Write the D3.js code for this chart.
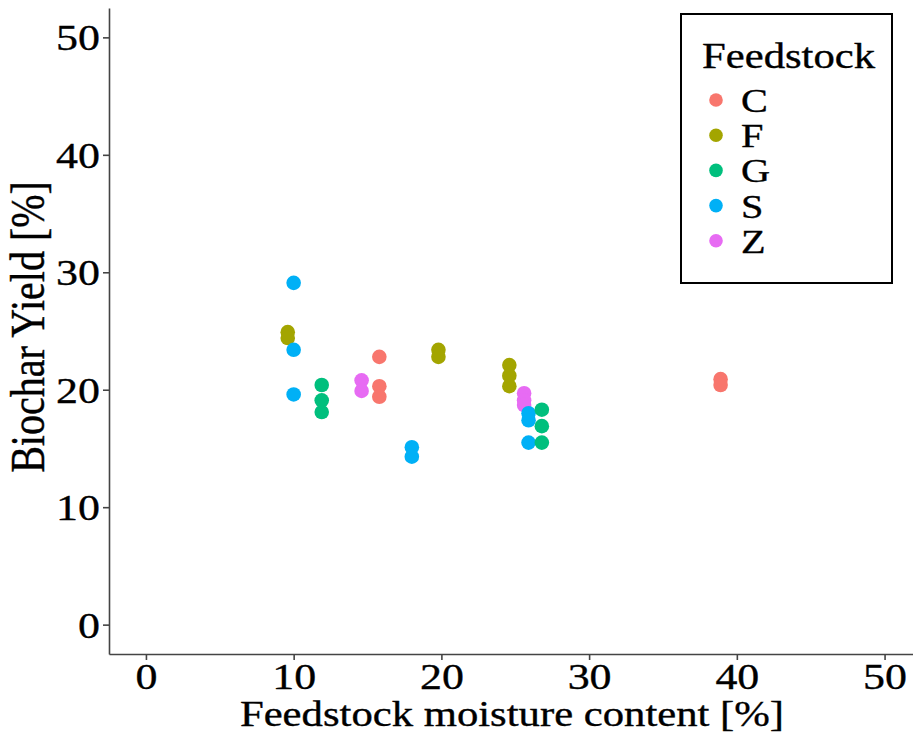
<!DOCTYPE html>
<html>
<head>
<meta charset="utf-8">
<style>
  body { margin: 0; background: #fff; }
  svg { display: block; }
  .axis path, .axis line { stroke: #444; stroke-width: 1.6; }
  .axis text { font-family: "Liberation Serif", "Times New Roman", serif; font-size: 36px; fill: #000; stroke: #000; stroke-width: 0.35; }
  .label { font-family: "Liberation Serif", "Times New Roman", serif; fill: #000; stroke: #000; stroke-width: 0.35; }
</style>
</head>
<body>
<svg width="913" height="740"></svg>
<script src="https://cdnjs.cloudflare.com/ajax/libs/d3/7.8.5/d3.min.js"></script>
<script>

// Feedstock groups and their points (moisture %, biochar yield %)
var feedstocks = ["C", "F", "G", "S", "Z"];
var colours = ["#F8766D", "#A3A500", "#00BF7D", "#00B0F6", "#E76BF3"];

var moistureC = [15.8, 15.8, 15.8, 38.9, 38.9];
var yieldC    = [22.8, 20.3, 19.4, 20.9, 20.4];

var moistureF = [9.6, 9.6, 19.8, 19.8, 24.6, 24.6, 24.6];
var yieldF    = [24.9, 24.4, 23.4, 22.8, 22.1, 21.2, 20.3];

var moistureG = [11.9, 11.9, 11.9, 26.8, 26.8, 26.8];
var yieldG    = [20.4, 19.1, 18.1, 18.3, 16.9, 15.5];

var moistureS = [10.0, 10.0, 10.0, 18.0, 18.0, 25.9, 25.9, 25.9];
var yieldS    = [29.1, 23.4, 19.6, 15.1, 14.3, 18.0, 17.4, 15.5];

var moistureZ = [14.6, 14.6, 25.6, 25.6, 25.6];
var yieldZ    = [20.8, 19.9, 19.7, 19.1, 18.7];

var ticks = [0, 10, 20, 30, 40, 50];

// build long table for plotting, order as drawn
var series = {
  C: [moistureC, yieldC], F: [moistureF, yieldF], G: [moistureG, yieldG],
  S: [moistureS, yieldS], Z: [moistureZ, yieldZ]
};
var drawOrder = ["C", "F", "Z", "S", "G"];
var points = [];
drawOrder.forEach(function(k) {
  series[k][0].forEach(function(m, i) {
    points.push({feed: k, moisture: m, yield: series[k][1][i]});
  });
});

var sx = 1.22; // text in the original is stretched horizontally

var svg = d3.select("svg");

var x = d3.scaleLinear().domain([-2.5, 52.5]).range([109, 921.5]);
var y = d3.scaleLinear().domain([-2.5, 52.5]).range([654, 8]);
var colour = d3.scaleOrdinal().domain(feedstocks).range(colours);

// points
svg.append("g")
  .selectAll("circle")
  .data(points)
  .enter().append("circle")
    .attr("cx", function(d) { return x(d.moisture); })
    .attr("cy", function(d) { return y(d.yield); })
    .attr("r", 7.3)
    .attr("fill", function(d) { return colour(d.feed); });

// axes
var gx = svg.append("g")
  .attr("class", "axis")
  .attr("transform", "translate(0,654)")
  .call(d3.axisBottom(x).tickValues(ticks).tickSize(6).tickSizeOuter(0));
gx.selectAll("text")
  .attr("dy", null)
  .attr("y", 35)
  .attr("transform", "scale(" + sx + ",1)");

var gy = svg.append("g")
  .attr("class", "axis")
  .attr("transform", "translate(109,0)")
  .call(d3.axisLeft(y).tickValues(ticks).tickSize(6).tickSizeOuter(0));
gy.selectAll("text")
  .attr("x", -9 / sx)
  .attr("dy", "0.35em")
  .attr("transform", "scale(" + sx + ",1)");

// axis titles
svg.append("text")
  .attr("class", "label")
  .attr("transform", "translate(512,726) scale(" + sx + ",1)")
  .attr("text-anchor", "middle")
  .style("font-size", "35px")
  .text("Feedstock moisture content [%]");

svg.append("text")
  .attr("class", "label")
  .attr("transform", "translate(44,327) scale(" + sx + ",1) rotate(-90)")
  .attr("text-anchor", "middle")
  .style("font-size", "40px")
  .text("Biochar Yield [%]");

// legend
var legend = svg.append("g");
legend.append("rect")
  .attr("x", 681).attr("y", 14)
  .attr("width", 211).attr("height", 269)
  .attr("fill", "#fff")
  .attr("stroke", "#000")
  .attr("stroke-width", 2);

legend.append("text")
  .attr("class", "label")
  .attr("transform", "translate(702,68) scale(" + sx + ",1)")
  .style("font-size", "35px")
  .text("Feedstock");

var item = legend.selectAll(".item")
  .data(feedstocks)
  .enter().append("g")
    .attr("class", "item")
    .attr("transform", function(d, i) { return "translate(0," + (100 + i * 35.2) + ")"; });

item.append("circle")
  .attr("cx", 716)
  .attr("r", 6.8)
  .attr("fill", function(d) { return colour(d); });

item.append("text")
  .attr("class", "label")
  .attr("transform", "translate(741,12) scale(" + sx + ",1)")
  .style("font-size", "33px")
  .text(function(d) { return d; });

</script>
</body>
</html>
